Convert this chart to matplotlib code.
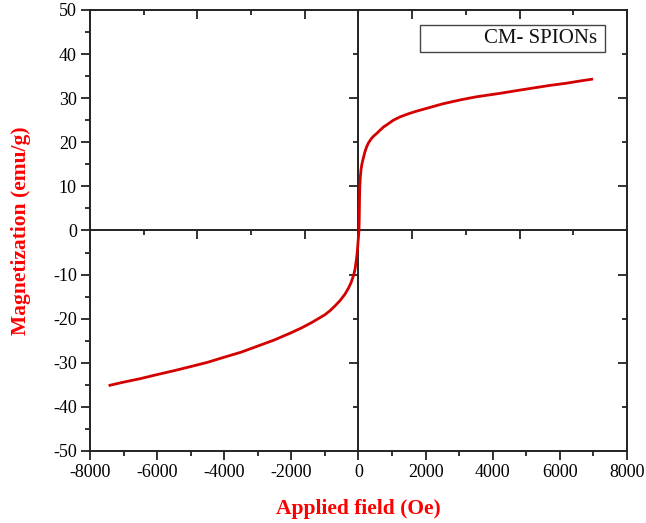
import numpy as np
import matplotlib.pyplot as plt
from matplotlib.patches import Rectangle

plt.rcParams['font.family'] = ['Liberation Serif', 'DejaVu Serif']
plt.rcParams['axes.unicode_minus'] = False

# M-H curve (field in Oe, magnetization in emu/g)
field = [-7405, -7008, -6500, -6013, -5500, -5021, -4500, -4029, -3500, -3033,
         -2500, -2041, -1700, -1400, -1200, -1000, -850, -700, -550, -400,
         -300, -220, -140, -100, -75, -50, -30, -10, 15, 20, 25, 30, 40, 55,
         75, 100, 143, 190, 244, 300, 380, 450, 542, 650, 750, 850, 1037, 1250,
         1500, 1750, 2032, 2500, 3024, 3500, 4216, 4700, 5200, 5700, 6200,
         6600, 6949]
magn = [-35.1, -34.4, -33.6, -32.7, -31.8, -30.9, -29.9, -28.8, -27.6, -26.3,
        -24.8, -23.3, -22.1, -20.9, -20.0, -19.1, -18.2, -17.1, -15.9, -14.4,
        -13.1, -11.8, -10.0, -8.6, -7.3, -5.8, -4.3, -2.3, 0.0, 2.0, 4.0, 7.0,
        10.0, 12.2, 13.8, 15.0, 16.4, 17.8, 19.0, 19.9, 20.8, 21.4, 22.0, 22.8,
        23.5, 24.0, 25.0, 25.8, 26.5, 27.1, 27.7, 28.7, 29.6, 30.3, 31.1,
        31.7, 32.3, 32.9, 33.4, 33.9, 34.3]

xticks = np.arange(-8000, 8001, 2000)
yticks = np.arange(-50, 51, 10)
# the inner/top/right axes in the original use another tick step
inner_x = np.arange(-8000, 8001, 1600)
inner_y = np.arange(-40, 41, 10)

ink = '#222222'
red = '#d40000'

fig = plt.figure(figsize=(6.46, 5.23), dpi=100)
ax = fig.add_axes([0.1393, 0.1377, 0.8313, 0.8432])

ax.plot(field, magn, color=red, lw=2.0, zorder=5, solid_joinstyle='round')
ax.axhline(0, color=ink, lw=1.4, zorder=3)
ax.axvline(0, color=ink, lw=1.4, zorder=3)

# ticks on the centre lines
long_x = inner_x[(inner_x // 1600) % 2 == 1]
short_x = inner_x[(inner_x // 1600) % 2 == 0]
ax.plot(long_x, np.zeros(len(long_x)), ls='none', marker=3, ms=6.5, mew=1.3, color=ink, zorder=3)
ax.plot(short_x, np.zeros(len(short_x)), ls='none', marker=3, ms=3.5, mew=1.3, color=ink, zorder=3)
long_y = inner_y[(inner_y // 10) % 2 == 1]
short_y = inner_y[((inner_y // 10) % 2 == 0) & (inner_y != 0)]
ax.plot(np.zeros(len(long_y)), long_y, ls='none', marker=0, ms=6.5, mew=1.3, color=ink, zorder=3)
ax.plot(np.zeros(len(short_y)), short_y, ls='none', marker=0, ms=3.5, mew=1.3, color=ink, zorder=3)

ax.set_xlim(-8000, 8000)
ax.set_ylim(-50, 50)
ax.set_xticks(xticks)
ax.set_yticks(yticks)
ax.set_xticks(np.arange(-7000, 8000, 2000), minor=True)
ax.set_yticks(np.arange(-45, 50, 10), minor=True)
ax.tick_params(which='major', direction='out', length=6.5, width=1.3, color=ink,
               labelsize=13, pad=3, top=False, right=False)
ax.tick_params(which='minor', direction='out', length=3.5, width=1.3, color=ink,
               top=False, right=False)
for s in ax.spines.values():
    s.set_linewidth(1.4)
    s.set_color(ink)

# top and right ticks (inward)
axt = ax.twiny()
axt.set_xlim(-8000, 8000)
axt.set_xticks(long_x)
axt.set_xticks(short_x, minor=True)
axt.set_xticklabels([])
axt.tick_params(which='major', direction='in', length=6.5, width=1.3, color=ink)
axt.tick_params(which='minor', direction='in', length=3.5, width=1.3, color=ink)
axr = ax.twinx()
axr.set_ylim(-50, 50)
axr.set_yticks(long_y)
axr.set_yticks(short_y, minor=True)
axr.set_yticklabels([])
axr.tick_params(which='major', direction='in', length=6.5, width=1.3, color=ink)
axr.tick_params(which='minor', direction='in', length=3.5, width=1.3, color=ink)
for a in (axt, axr):
    for s in a.spines.values():
        s.set_visible(False)

ax.set_xlabel('Applied field (Oe)', color='red', fontsize=15.5, fontweight='bold', labelpad=13)
ax.set_ylabel('Magnetization (emu/g)', color='red', fontsize=15.5, fontweight='bold', labelpad=16)

ax.add_patch(Rectangle((0.6145, 0.905), 0.3445, 0.061, transform=ax.transAxes,
                       fill=False, edgecolor='#444444', lw=1.0, zorder=6))
ax.text(0.945, 0.935, 'CM- SPIONs', transform=ax.transAxes, ha='right', va='center',
        fontsize=15, color='#111111', zorder=7)

plt.savefig('out.png', dpi=100)
